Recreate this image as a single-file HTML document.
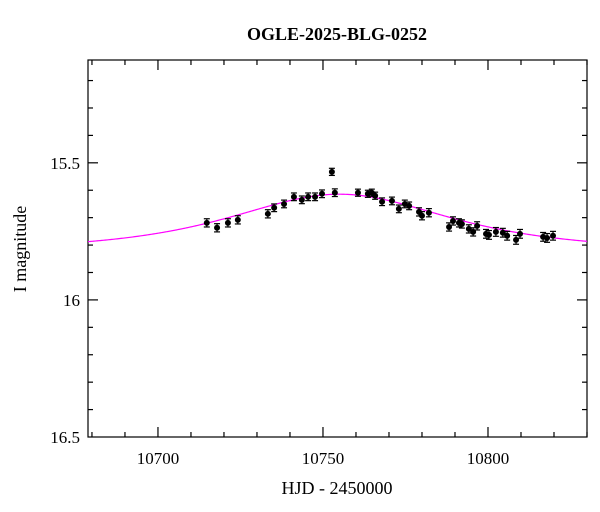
<!DOCTYPE html>
<html><head><meta charset="utf-8"><style>
body{margin:0;background:#fff;}
svg{display:block;font-family:"Liberation Serif",serif;}
</style></head><body>
<svg id="chart" width="600" height="512"></svg>
<script>
const hjd=[10714.8,10717.9,10721.2,10724.2,10733.3,10735.2,10738.2,10741.2,10743.6,10745.5,10747.6,10749.7,10752.7,10753.6,10760.6,10763.6,10764.8,10765.8,10767.9,10770.9,10773.0,10774.8,10776.1,10779.1,10780.0,10782.1,10788.2,10789.4,10791.2,10792.1,10794.2,10795.5,10796.7,10799.4,10800.3,10802.4,10804.5,10805.8,10808.5,10809.7,10816.7,10817.9,10819.7];
const mag=[15.719,15.737,15.719,15.708,15.686,15.664,15.650,15.624,15.635,15.624,15.624,15.613,15.533,15.609,15.609,15.613,15.609,15.620,15.642,15.639,15.668,15.650,15.657,15.679,15.693,15.682,15.734,15.712,15.719,15.723,15.741,15.752,15.730,15.759,15.763,15.752,15.755,15.766,15.781,15.759,15.770,15.774,15.766];
const magErr=[0.015,0.015,0.015,0.015,0.015,0.014,0.014,0.014,0.014,0.014,0.014,0.014,0.013,0.014,0.013,0.013,0.013,0.013,0.014,0.014,0.014,0.014,0.014,0.015,0.015,0.015,0.015,0.015,0.015,0.015,0.015,0.015,0.015,0.016,0.016,0.016,0.016,0.016,0.016,0.016,0.016,0.016,0.016];
const model={t0:10755,u0:1.25,tE:35,I0:15.82};
const xTicks=[10700,10750,10800];
const yTicks=[15.5,16,16.5];
const yLabels=["15.5","16","16.5"];

const L=88,R=587,T=60,B=437;
const xMin=10678.8,xMax=10830,yMin=15.125,yMax=16.5;
const X=v=>L+(v-xMin)/(xMax-xMin)*(R-L);
const Y=v=>T+(v-yMin)/(yMax-yMin)*(B-T);
const NS="http://www.w3.org/2000/svg";
const svg=document.getElementById('chart');
function mk(tag,attrs,parent){const e=document.createElementNS(NS,tag);for(const k in attrs)e.setAttribute(k,attrs[k]);(parent||svg).appendChild(e);return e;}

const frame=mk('rect',{x:L,y:T,width:R-L,height:B-T,fill:'none',stroke:'#000','stroke-width':1.2});



const ticks=mk('g',{stroke:'#000','stroke-width':1.2});


for(let v=10680;v<=10830;v+=10){const x=X(v);if(x<L||x>R)continue;const maj=v%50===0;const len=maj?10:5;
  mk('line',{x1:x,x2:x,y1:B,y2:B-len},ticks);mk('line',{x1:x,x2:x,y1:T,y2:T+len},ticks);}
for(let i=0;i<=12;i++){const v=15.2+i*0.1;const y=Y(v);const maj=Math.abs(v*2-Math.round(v*2))<1e-6;const len=maj?10:5;
  mk('line',{x1:L,x2:L+len,y1:y,y2:y},ticks);mk('line',{x1:R,x2:R-len,y1:y,y2:y},ticks);}

xTicks.forEach(v=>{const t=mk('text',{x:X(v),y:464,'text-anchor':'middle','font-size':17});t.textContent=String(v);
  
  });
yTicks.forEach((v,i)=>{const t=mk('text',{x:80,y:Y(v)+6,'text-anchor':'end','font-size':17});t.textContent=yLabels[i];
  
  });

const ttl=mk('text',{x:337,y:40,'text-anchor':'middle','font-size':18,'font-weight':'bold'});ttl.textContent='OGLE-2025-BLG-0252';


const xt=mk('text',{x:337,y:494,'text-anchor':'middle','font-size':18});xt.textContent='HJD - 2450000';


const yt=mk('text',{x:26,y:249,'text-anchor':'middle','font-size':18,transform:'rotate(-90 26 249)'});yt.textContent='I magnitude';



let d='';
for(let x=L;x<=R;x+=1){const t=xMin+(x-L)/(R-L)*(xMax-xMin);const tau=(t-model.t0)/model.tE;const u=Math.sqrt(model.u0*model.u0+tau*tau);
  const A=(u*u+2)/(u*Math.sqrt(u*u+4));const m=model.I0-2.5*Math.log10(A);d+=(x===L?'M':'L')+x+','+Y(m).toFixed(2);}
const curve=mk('path',{d:d,fill:'none',stroke:'#ff00ff','stroke-width':1.2});



const pts=mk('g',{});


hjd.forEach((t,i)=>{const x=X(t),y=Y(mag[i]),y1=Y(mag[i]-magErr[i]),y2=Y(mag[i]+magErr[i]);
  const g=mk('g',{stroke:'#000','stroke-width':1.2},pts);
  
  
  mk('line',{x1:x,x2:x,y1:y1,y2:y2},g);
  mk('line',{x1:x-3,x2:x+3,y1:y1,y2:y1},g);
  mk('line',{x1:x-3,x2:x+3,y1:y2,y2:y2},g);
  mk('circle',{cx:x,cy:y,r:3,fill:'#000',stroke:'none'},g);});
</script>
</body></html>
